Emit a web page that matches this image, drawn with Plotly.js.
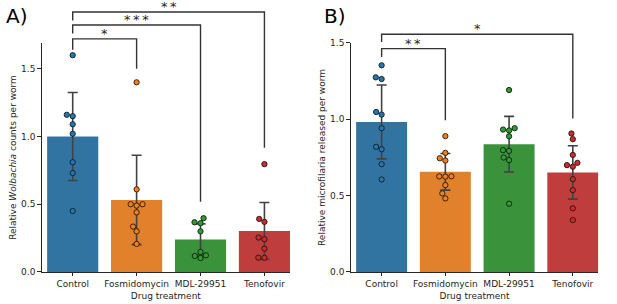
<!DOCTYPE html>
<html>
<head>
<meta charset="utf-8">
<script src="https://cdn.plot.ly/plotly-3.0.1.min.js"></script>
<style>html,body{margin:0;padding:0;background:#fff;}#chart{width:617px;height:304px;}</style>
</head>
<body>
<div id="chart"></div>
<script>
// ---------- data ----------
const categories = ["Control", "Fosmidomycin", "MDL-29951", "Tenofovir"];

// Panel A: relative Wolbachia counts per worm
const meanA = [1.00, 0.532, 0.24, 0.303];
const sdA   = [0.325, 0.33, 0.115, 0.21];
const ptsA_control = [1.60, 1.16, 1.15, 1.09, 1.02, 0.81, 0.73, 0.45];
const ptsA_fosmido = [1.40, 0.61, 0.49, 0.50, 0.50, 0.44, 0.335, 0.30, 0.207];
const ptsA_mdl     = [0.397, 0.367, 0.36, 0.30, 0.148, 0.123, 0.118, 0.103];
const ptsA_tenofo  = [0.796, 0.392, 0.37, 0.254, 0.242, 0.172, 0.106, 0.105];

// Panel B: relative microfilaria released per worm
const meanB = [0.983, 0.656, 0.837, 0.652];
const sdB   = [0.242, 0.12, 0.182, 0.175];
const ptsB_control = [1.354, 1.275, 1.264, 1.048, 1.031, 0.942, 0.82, 0.804, 0.706, 0.606];
const ptsB_fosmido = [0.89, 0.78, 0.745, 0.73, 0.626, 0.625, 0.627, 0.569, 0.515, 0.482];
const ptsB_mdl     = [1.192, 0.942, 0.927, 0.933, 0.889, 0.798, 0.793, 0.75, 0.733, 0.447];
const ptsB_tenofo  = [0.907, 0.87, 0.767, 0.715, 0.70, 0.69, 0.608, 0.536, 0.417, 0.34];

// significance brackets (category indices, values in data units)
const sigA_from  = [0, 0, 0];
const sigA_to    = [1, 2, 3];
const sigA_top   = [1.72, 1.823, 1.919];
const sigA_left  = [1.64, 1.76, 1.856];
const sigA_right = [1.50, 0.519, 0.917];
const sigA_label = ["*", "***", "**"];

const sigB_from  = [0, 0];
const sigB_to    = [1, 3];
const sigB_top   = [1.463, 1.557];
const sigB_left  = [1.408, 1.506];
const sigB_right = [0.994, 1.005];
const sigB_label = ["**", "*"];

// ---------- styling ----------
const W = 617, H = 304;
const barColors = ["#3274a1", "#e1812c", "#3a923a", "#c03d3e"];
const ptColors  = ["#1f77b4", "#ff7f0e", "#2ca02c", "#d62728"];
const FONT = "DejaVu Sans, Arial, sans-serif";
const ink = "#262626";
const yDom = [0.1053, 0.8586];
const xDomA = [0.0676, 0.470];
const xDomB = [0.5684, 0.9697];
const xRange = [-0.485, 3.4];
const yMaxA = 1.69, yMaxB = 1.5;

// beeswarm (seaborn-like) offsets computed in pixel space
function swarm(vals, center, pxPerY, pxPerX, d) {
  const order = vals.map((v, i) => i).sort((a, b) => vals[a] - vals[b]);
  const placed = [];
  const xs = new Array(vals.length);
  for (const i of order) {
    const y = vals[i] * pxPerY;
    const nb = placed.filter(p => Math.abs(p.y - y) < d);
    const cands = [0];
    let leftFirst = true;
    for (const n of nb) {
      const dy = y - n.y;
      const dx = Math.sqrt(Math.max(d * d - dy * dy, 0)) * 1.05;
      if (leftFirst) cands.push(n.x - dx, n.x + dx); else cands.push(n.x + dx, n.x - dx);
      leftFirst = !leftFirst;
    }
    const sorted = cands.map((c, k) => [c, k]).sort((a, b) => Math.abs(a[0]) - Math.abs(b[0]) || a[1] - b[1]);
    let chosen = sorted[0][0];
    for (const [c] of sorted) {
      const ok = nb.every(n => (c - n.x) ** 2 + (y - n.y) ** 2 >= d * d - 1e-6);
      if (ok) { chosen = c; break; }
    }
    placed.push({ x: chosen, y: y });
    xs[i] = center + chosen / pxPerX;
  }
  return xs;
}

const plotHpx = (yDom[1] - yDom[0]) * H;
const pxYA = plotHpx / yMaxA, pxYB = plotHpx / yMaxB;
const pxXA = (xDomA[1] - xDomA[0]) * W / (xRange[1] - xRange[0]);
const pxXB = (xDomB[1] - xDomB[0]) * W / (xRange[1] - xRange[0]);
const DOT = 5.8;

const idx = categories.map((c, i) => i);
const traces = [];
function addPanel(means, sds, ptsList, xa, ya, pxY, pxX) {
  traces.push({
    type: "bar", x: idx, y: means, xaxis: xa, yaxis: ya, width: 0.8,
    marker: { color: barColors, line: { width: 0 } },
    error_y: { type: "data", array: sds, visible: true, color: "#424242", thickness: 1.6, width: 5 },
    hoverinfo: "skip", showlegend: false
  });
  ptsList.forEach((pts, i) => {
    traces.push({
      type: "scatter", mode: "markers", xaxis: xa, yaxis: ya,
      x: swarm(pts, i, pxY, pxX, DOT), y: pts,
      marker: { size: 5.3, color: ptColors[i], line: { color: "#1a1a1a", width: 0.9 } },
      cliponaxis: false, showlegend: false, hoverinfo: "skip"
    });
  });
}
addPanel(meanA, sdA, [ptsA_control, ptsA_fosmido, ptsA_mdl, ptsA_tenofo], "x", "y", pxYA, pxXA);
addPanel(meanB, sdB, [ptsB_control, ptsB_fosmido, ptsB_mdl, ptsB_tenofo], "x2", "y2", pxYB, pxXB);

// brackets
const shapes = [], annotations = [];
function toPaper(v, yMax) { return yDom[0] + v / yMax * (yDom[1] - yDom[0]); }
function addBrackets(from, to, top, left, right, label, xref, yMax) {
  from.forEach((f, k) => {
    const t = to[k];
    shapes.push({
      type: "path", xref: xref, yref: "paper",
      path: `M ${f},${toPaper(left[k], yMax)} L ${f},${toPaper(top[k], yMax)} L ${t},${toPaper(top[k], yMax)} L ${t},${toPaper(right[k], yMax)}`,
      line: { color: "#333333", width: 1.4 }
    });
    annotations.push({
      xref: xref, yref: "paper", x: (f + t) / 2, y: toPaper(top[k], yMax),
      text: label[k].split("").join("\u2009"), showarrow: false, xanchor: "center", yanchor: "bottom", yshift: -4,
      font: { family: FONT, size: 13, color: ink }
    });
  });
}
addBrackets(sigA_from, sigA_to, sigA_top, sigA_left, sigA_right, sigA_label, "x", yMaxA);
addBrackets(sigB_from, sigB_to, sigB_top, sigB_left, sigB_right, sigB_label, "x2", yMaxB);

annotations.push({ xref: "paper", yref: "paper", x: 4 / W, y: 1 - 2 / H, xanchor: "left", yanchor: "top",
  text: "A)", showarrow: false, font: { family: FONT, size: 20, color: "#000" } });
annotations.push({ xref: "paper", yref: "paper", x: 322 / W, y: 1 - 2 / H, xanchor: "left", yanchor: "top",
  text: "B)", showarrow: false, font: { family: FONT, size: 20, color: "#000" } });

function xAxis(dom, anchor) {
  return {
    domain: dom, anchor: anchor, range: xRange, type: "linear",
    tickvals: idx, ticktext: categories, ticks: "outside", ticklen: 3.5, tickwidth: 1, tickcolor: ink,
    showline: true, linecolor: ink, linewidth: 1, showgrid: false, zeroline: false,
    tickfont: { family: FONT, size: 9, color: ink },
    title: { text: "Drug treatment", font: { family: FONT, size: 9, color: ink }, standoff: 4 },
    fixedrange: true
  };
}
function yAxis(anchor, yMax, titleText) {
  return {
    domain: yDom, anchor: anchor, range: [0, yMax], tickvals: [0, 0.5, 1.0, 1.5], ticktext: ["0.0", "0.5", "1.0", "1.5"],
    ticks: "outside", ticklen: 3.5, tickwidth: 1, tickcolor: ink,
    showline: true, linecolor: ink, linewidth: 1, showgrid: false, zeroline: false,
    tickfont: { family: FONT, size: 9, color: ink },
    title: { text: titleText, font: { family: FONT, size: 9, color: ink }, standoff: 2 },
    fixedrange: true
  };
}

const layout = {
  width: W, height: H, margin: { l: 0, r: 0, t: 0, b: 0 },
  paper_bgcolor: "#ffffff", plot_bgcolor: "#ffffff",
  xaxis: xAxis(xDomA, "y"), yaxis: yAxis("x", yMaxA, "Relative <i>Wolbachia</i> counts per worm"),
  xaxis2: xAxis(xDomB, "y2"), yaxis2: yAxis("x2", yMaxB, "Relative microfilaria released per worm"),
  shapes: shapes, annotations: annotations, bargap: 0.2, showlegend: false
};

Plotly.newPlot("chart", traces, layout, { displayModeBar: false, staticPlot: true });
</script>
</body>
</html>
